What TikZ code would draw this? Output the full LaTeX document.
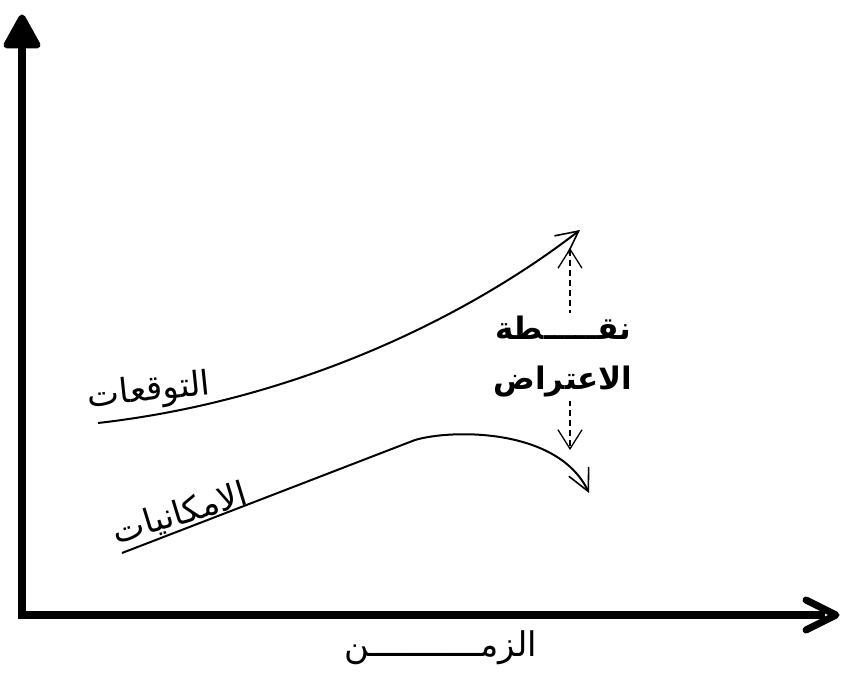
\documentclass[tikz,border=0pt]{standalone}
\usepackage{fontspec}
\newfontfamily\arabicfont[Script=Arabic]{DejaVu Sans}
\TeXXeTstate=1
\usetikzlibrary{arrows.meta}
\tikzset{
  axisline/.style={line width=7.5pt, line join=miter},
  axishead/.style={line width=7pt, line cap=round, line join=round},
  curveline/.style={line width=2pt, -{Straight Barb[length=22pt,width=22pt,line width=1.6pt]}},
  dashline/.style={line width=1.4pt, dash pattern=on 6pt off 4pt, {Straight Barb[length=19pt,width=24pt,line width=1.3pt]}-{Straight Barb[length=19pt,width=24pt,line width=1.3pt]}},
  lbl/.style={font=\arabicfont\fontsize{34}{40}\selectfont, inner sep=0pt},
}
\begin{document}
\begin{tikzpicture}[x=1pt,y=-1pt]
\useasboundingbox (0,0) rectangle (850,695);
% axes
\coordinate (ytop) at (22,18);
\coordinate (O) at (22,615);
\coordinate (xend) at (836,615);
\draw[axisline] (22,40) -- (O) -- (825,615);
\filldraw[axishead] (7,45) -- (ytop) -- (37,45) -- cycle;
\draw[axishead] (806,600) -- (xend) -- (806,630);
% curves
\coordinate (e0) at (98,423);
\coordinate (e1) at (580,230);
\draw[curveline] (e0) .. controls (300,400) and (470,315) .. (e1);
\coordinate (p0) at (122,553);
\coordinate (p1) at (415,440);
\coordinate (p2) at (589,493);
\draw[curveline] (p0) -- (p1) .. controls (452,429) and (558,428) .. (p2);
% dashed double arrow
\coordinate (d0) at (570,248);
\coordinate (d1) at (570,450);
\draw[dashline] (d0) -- (d1);
\node[fill=white, inner sep=3pt, align=center, font=\arabicfont\bfseries\fontsize{31}{50}\selectfont] (poi) at (563,357) {\beginR نقـــــطة\endR\\\beginR الاعتراض\endR};
% labels
\node[lbl, rotate=6] (exp) at (149,392) {\beginR التوقعات\endR};
\node[lbl, rotate=17] (pos) at (180,514) {\beginR الامكانيات\endR};
\node[lbl] (time) at (441,648) {\beginR الزمـــــــــــن\endR};
\end{tikzpicture}
\end{document}
